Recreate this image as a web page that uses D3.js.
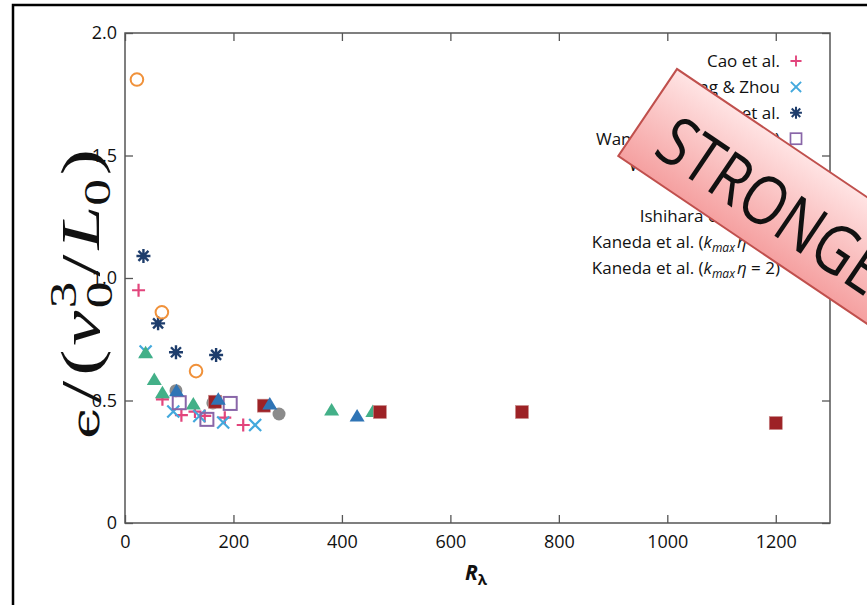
<!DOCTYPE html>
<html>
<head>
<meta charset="utf-8">
<style>
body { margin: 0; background: #fff; }
text { font-family: "Open Sans", sans-serif; fill: #111; }
.tick text { font-size: 18px; }
.legend text { font-size: 17px; }
</style>
</head>
<body>
<script src="https://cdn.jsdelivr.net/npm/d3@7"></script>
<script>

// values: [R_lambda, eps/(v0^3/L0)]
var caoEtAl = [[25, 0.95], [69, 0.505], [104, 0.44], [129, 0.455], [147, 0.437], [184, 0.43], [218, 0.40]];
var yeungZhou = [[38, 0.70], [89, 0.455], [137, 0.437], [181, 0.41], [240, 0.40]];
var jimenezEtAl = [[34, 1.09], [61, 0.815], [94, 0.697], [168, 0.686]];
var wangSquares = [[100, 0.491], [151, 0.423], [194, 0.488]];
var wangCircles = [[22, 1.81], [68, 0.86], [131, 0.62]];
var gotohEtAl = [[38, 0.695], [54, 0.586], [69, 0.532], [126, 0.486], [381, 0.461], [457, 0.455]];
var ishiharaEtAl = [[94, 0.54], [162, 0.49], [284, 0.445]];
var kanedaK1 = [[166, 0.495], [256, 0.479], [470, 0.453], [732, 0.453], [1200, 0.408]];
var kanedaK2 = [[95, 0.54], [172, 0.505], [267, 0.486], [428, 0.437]];

var legendLabels = ["Cao et al.", "Yeung & Zhou", "Jiménez et al.", "Wang et al. (1996, DNS)",
  "Watanabe & Gotoh", "Gotoh et al.", "Ishihara et al. (07)", "kmax1", "kmax2"];

var xTicks = [0, 200, 400, 600, 800, 1000, 1200];
var yTicks = [0, 0.5, 1.0, 1.5, 2.0];

var width = 867, height = 605;
var plotL = 125, plotR = 830, plotT = 33, plotB = 523;

var svg = d3.select("body").append("svg")
    .attr("width", width)
    .attr("height", height);

// outer slide frame
svg.append("rect")
    .attr("x", 13).attr("y", 5)
    .attr("width", 900).attr("height", 700)
    .attr("fill", "none").attr("stroke", "#000").attr("stroke-width", 2.5);

var x = d3.scaleLinear().domain([0, 1300]).range([plotL, plotR]);
var y = d3.scaleLinear().domain([0, 2]).range([plotB, plotT]);

// axes, ticks pointing inward on all four sides
svg.append("g").attr("transform", "translate(0," + plotB + ")")
    .call(d3.axisBottom(x).tickValues(xTicks).tickSizeInner(-8).tickSizeOuter(0).tickPadding(12).tickFormat(d3.format("d")));
svg.append("g").attr("transform", "translate(0," + plotT + ")")
    .call(d3.axisTop(x).tickValues(xTicks).tickSizeInner(-8).tickSizeOuter(0).tickFormat(""));
svg.append("g").attr("transform", "translate(" + plotL + ",0)")
    .call(d3.axisLeft(y).tickValues(yTicks).tickSizeInner(-8).tickSizeOuter(0).tickPadding(8)
      .tickFormat(function(d) { return d == 0 ? "0" : d3.format(".1f")(d); }));
svg.append("g").attr("transform", "translate(" + plotR + ",0)")
    .call(d3.axisRight(y).tickValues(yTicks).tickSizeInner(-8).tickSizeOuter(0).tickFormat(""));

svg.selectAll(".domain").remove();
svg.selectAll(".tick line").attr("stroke", "#555").attr("stroke-width", 1.3);
svg.selectAll(".tick text").attr("fill", "#111");

svg.append("rect")
    .attr("x", plotL).attr("y", plotT)
    .attr("width", plotR - plotL).attr("height", plotB - plotT)
    .attr("fill", "none").attr("stroke", "#555").attr("stroke-width", 1.5);

// x axis title
var xt = svg.append("text")
    .attr("x", 476).attr("y", 580)
    .attr("text-anchor", "middle")
    .attr("font-size", 21).attr("font-weight", 700).attr("font-style", "italic");
xt.append("tspan").text("R");
xt.append("tspan").attr("font-size", 15).attr("dy", 5).attr("font-style", "normal").text("λ");

// y axis title (latex look), stretched along its length
var yt = svg.append("text")
    .attr("transform", "translate(99,294) rotate(-90) scale(1.27,0.9)")
    .attr("text-anchor", "middle")
    .style("font-family", "'Liberation Serif', serif")
    .attr("font-size", 62);
yt.append("tspan").style("font-family", "'DejaVu Serif', serif").attr("font-size", 44).text("ϵ");
yt.append("tspan").attr("dx", 4).text("/");
yt.append("tspan").attr("dx", 4).text("(");
yt.append("tspan").attr("dx", 3).attr("font-style", "italic").text("v");
yt.append("tspan").attr("dx", 2).attr("font-size", 42).attr("dy", -26).text("3");
yt.append("tspan").attr("font-size", 42).attr("dx", -21).attr("dy", 40).text("0");
yt.append("tspan").attr("dy", -14).attr("dx", 4).text("/");
yt.append("tspan").attr("dx", 4).attr("font-style", "italic").text("L");
yt.append("tspan").attr("font-size", 42).attr("dy", 12).text("0");
yt.append("tspan").attr("dy", -12).attr("dx", 3).text(")");

// marker shapes
var plusPath = "M-6.5,0H6.5M0,-6.5V6.5";
var crossPath = "M-6,-6L6,6M-6,6L6,-6";
var starPath = "M-7,0H7M0,-7V7M-5,-5L5,5M-5,5L5,-5";
var triPath = "M0,-7L7.5,5.5H-7.5Z";

function marker(g, kind, color) {
  if (kind == "plus") g.append("path").attr("d", plusPath).attr("stroke", color).attr("stroke-width", 2.2).attr("fill", "none");
  if (kind == "cross") g.append("path").attr("d", crossPath).attr("stroke", color).attr("stroke-width", 2.2).attr("fill", "none");
  if (kind == "star") g.append("path").attr("d", starPath).attr("stroke", color).attr("stroke-width", 2.4).attr("fill", "none");
  if (kind == "osquare") g.append("rect").attr("x", -6.5).attr("y", -6.5).attr("width", 13).attr("height", 13)
      .attr("stroke", color).attr("stroke-width", 2).attr("fill", "none");
  if (kind == "ocircle") g.append("circle").attr("r", 6.3).attr("stroke", color).attr("stroke-width", 2).attr("fill", "none");
  if (kind == "tri") g.append("path").attr("d", triPath).attr("fill", color);
  if (kind == "dot") g.append("circle").attr("r", 6.5).attr("fill", color);
  if (kind == "square") g.append("rect").attr("x", -6.5).attr("y", -6.5).attr("width", 13).attr("height", 13)
      .attr("fill", color).attr("stroke", "#c98a8a").attr("stroke-width", 0.6);
}

var series = [
  {data: caoEtAl, kind: "plus", color: "#e2457c"},
  {data: yeungZhou, kind: "cross", color: "#43a9dd"},
  {data: jimenezEtAl, kind: "star", color: "#1e3d6c"},
  {data: wangSquares, kind: "osquare", color: "#8966a8"},
  {data: wangCircles, kind: "ocircle", color: "#f0913a"},
  {data: gotohEtAl, kind: "tri", color: "#43b088"},
  {data: ishiharaEtAl, kind: "dot", color: "#8b8b8b"},
  {data: kanedaK1, kind: "square", color: "#9d2226"},
  {data: kanedaK2, kind: "tri", color: "#2f74b5"}
];

var drawOrder = [0, 1, 2, 4, 5, 6, 3, 7, 8];
drawOrder.forEach(function(i) {
  var s = series[i];
  svg.append("g").selectAll("g")
    .data(s.data)
    .enter().append("g")
    .attr("transform", function(d) { return "translate(" + x(d[0]) + "," + y(d[1]) + ")"; })
    .each(function() { marker(d3.select(this), s.kind, s.color); });
});

// legend
var legend = svg.append("g").attr("class", "legend");
series.forEach(function(s, i) {
  var ly = 61 + i * 25.9;
  var t = legend.append("text").attr("x", 780).attr("y", ly).attr("dy", "0.35em").attr("text-anchor", "end");
  if (i < 7) {
    t.text(legendLabels[i]);
  } else {
    t.append("tspan").text("Kaneda et al. (");
    t.append("tspan").attr("font-style", "italic").text("k");
    t.append("tspan").attr("font-style", "italic").attr("font-size", 12).attr("dy", 4).text("max");
    t.append("tspan").attr("font-style", "italic").attr("dy", -4).attr("dx", 2).text("η");
    t.append("tspan").text(i == 7 ? " = 1)" : " = 2)");
  }
  var g = legend.append("g").attr("transform", "translate(796," + ly + ") scale(0.85)");
  marker(g, s.kind, s.color);
});

// "STRONG..." banner on top
var defs = svg.append("defs");
var grad = defs.append("linearGradient").attr("id", "bannerFill")
    .attr("x1", 0).attr("y1", 0).attr("x2", 0).attr("y2", 1);
grad.append("stop").attr("offset", "0%").attr("stop-color", "#ffe4e4");
grad.append("stop").attr("offset", "100%").attr("stop-color", "#f5a0a0");

var banner = svg.append("g").attr("transform", "translate(677,69) rotate(34)");
banner.append("rect")
    .attr("x", 0).attr("y", 0).attr("width", 420).attr("height", 105)
    .attr("fill", "url(#bannerFill)").attr("stroke", "#c0504d").attr("stroke-width", 2);
banner.append("text")
    .attr("transform", "translate(26,84) scale(0.84,1)")
    .attr("font-size", 68).attr("fill", "#000")
    .text("STRONGER");

</script>
</body>
</html>
